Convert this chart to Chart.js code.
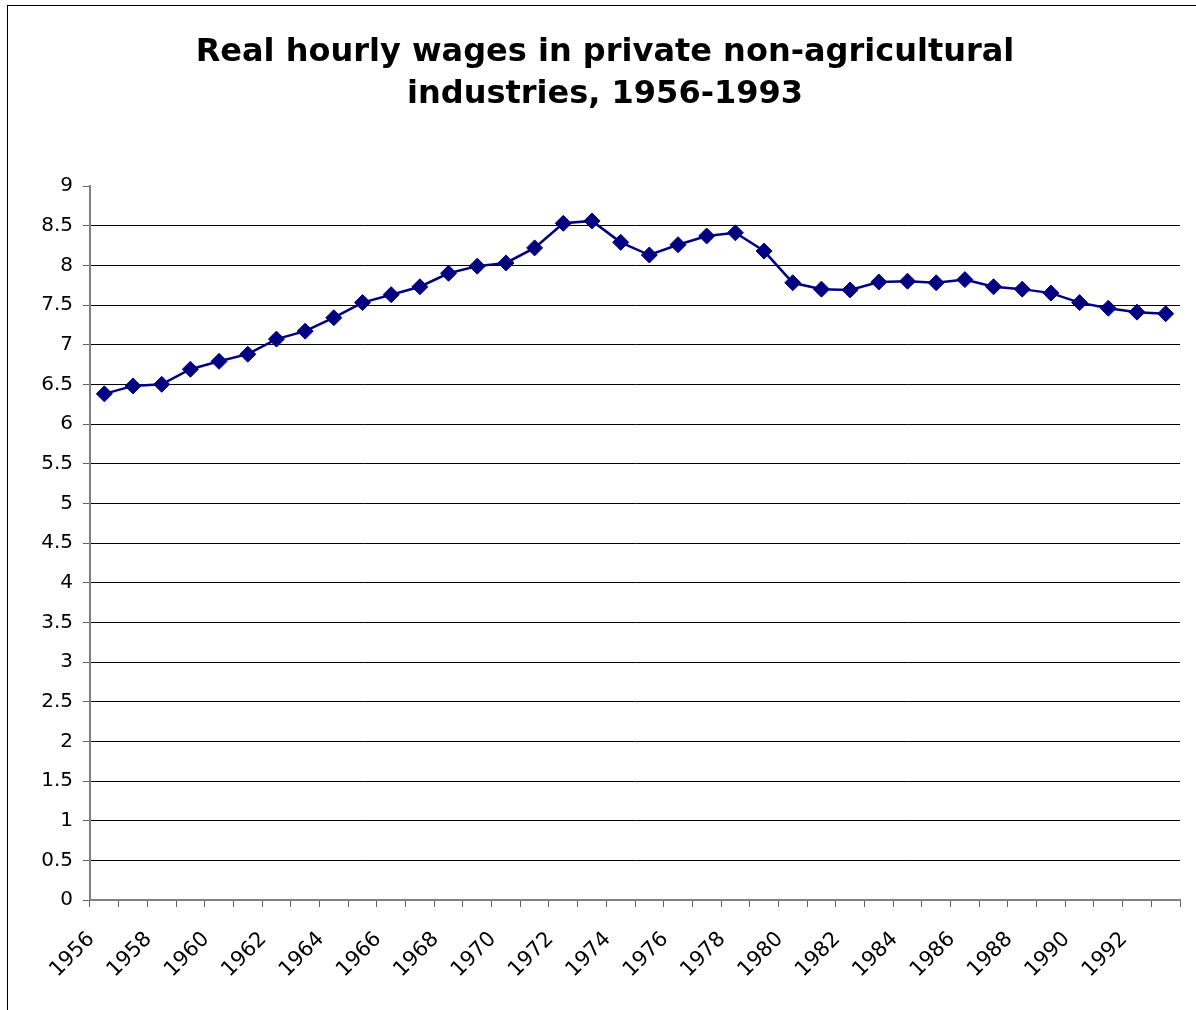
<!DOCTYPE html>
<html>
<head>
<meta charset="utf-8">
<script src="https://cdn.jsdelivr.net/npm/chart.js@4/dist/chart.umd.min.js"></script>
<style>
  body { margin: 0; background: #fff; overflow: hidden; }
  #frame { position: absolute; left: 7px; top: 5px; width: 1300px; height: 1100px; border: 1px solid #000; }
  #wrap { position: absolute; left: 0; top: 0; width: 1196px; height: 1010px; }
</style>
</head>
<body>
<div id="frame"></div>
<div id="wrap"><canvas id="wages-chart" width="1196" height="1010"></canvas></div>
<script>
// years 1956-1993
const years = ["1956","1957","1958","1959","1960","1961","1962","1963","1964","1965",
  "1966","1967","1968","1969","1970","1971","1972","1973","1974","1975",
  "1976","1977","1978","1979","1980","1981","1982","1983","1984","1985",
  "1986","1987","1988","1989","1990","1991","1992","1993"];

// real hourly wages
const wages = [6.38, 6.48, 6.50, 6.69, 6.79, 6.88, 7.07, 7.17, 7.34, 7.53,
  7.63, 7.73, 7.90, 7.99, 8.03, 8.22, 8.53, 8.56, 8.29, 8.13,
  8.26, 8.37, 8.41, 8.18, 7.78, 7.70, 7.69, 7.79, 7.80, 7.78,
  7.82, 7.73, 7.70, 7.65, 7.53, 7.46, 7.41, 7.39];

const titleLines = ["Real hourly wages in private non-agricultural", "industries, 1956-1993"];

Chart.defaults.font.family = "'DejaVu Sans', Verdana, sans-serif";
Chart.defaults.color = "#000";

new Chart(document.getElementById("wages-chart"), {
    type: 'line',
    data: {
      labels: years,
      datasets: [
        {
          label: "Real hourly wages",
          data: wages,
          borderColor: "#000080",
          backgroundColor: "#000080",
          borderWidth: 2.5,
          tension: 0,
          pointStyle: 'rectRot',
          pointRadius: 8,
          pointBorderWidth: 1,
          pointHoverRadius: 8
        }
      ]
    },
    options: {
      responsive: false,
      animation: false,
      // left padding shifts the title centre to match the original
      layout: { padding: { left: 14, right: 0, top: 0, bottom: 0 } },
      plugins: {
        legend: { display: false },
        tooltip: { enabled: false },
        title: {
          display: true,
          text: titleLines,
          color: "#000",
          font: { size: 32, weight: 'bold', lineHeight: 1.3125 },
          padding: { top: 32, bottom: 70 }
        }
      },
      scales: {
        x: {
          offset: true,
          grid: {
            offset: true,
            drawOnChartArea: false,
            drawTicks: true,
            tickLength: 7,
            color: "#808080",
            tickColor: "#606060"
          },
          border: { color: "#808080", width: 2 },
          ticks: {
            autoSkip: false,
            minRotation: 45,
            maxRotation: 45,
            padding: 20,
            labelOffset: -13,
            font: { size: 21 },
            callback: function(value, index) {
              return index % 2 === 0 ? years[index] : '';
            }
          },
          afterFit: function(scale) {
            scale.height = 110;
            scale.paddingLeft = 0;
            scale.paddingRight = 16;
          }
        },
        y: {
          min: 0,
          max: 9,
          grid: {
            color: function(ctx) {
              return ctx.tick && ctx.tick.value === 9 ? 'rgba(0,0,0,0)' : '#000';
            },
            lineWidth: 1,
            tickLength: 7,
            tickColor: "#606060"
          },
          border: { color: "#808080", width: 2 },
          ticks: {
            stepSize: 0.5,
            padding: 10,
            font: { size: 20 },
            callback: function(value) { return String(value); }
          },
          afterFit: function(scale) { scale.width = 76; }
        }
      }
    }
});
</script>
</body>
</html>
